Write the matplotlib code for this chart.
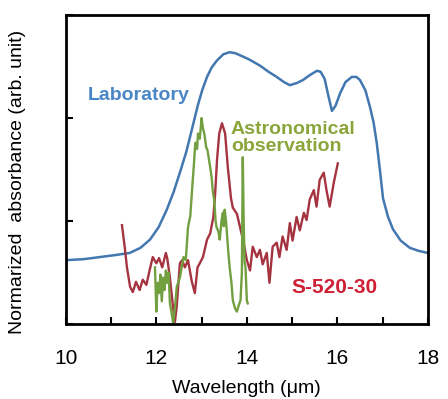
import matplotlib
matplotlib.use("Agg")
import matplotlib.pyplot as plt

plt.rcParams['font.family'] = ['Liberation Sans', 'DejaVu Sans']

# Laboratory absorbance (blue)
lab_x = [10.0, 10.4, 10.75, 11.1, 11.41, 11.65, 11.86, 12.05, 12.23, 12.38, 12.52, 12.66,
         12.78, 12.92, 13.02, 13.12, 13.22, 13.34, 13.48, 13.62, 13.75, 13.85, 14.05, 14.29,
         14.48, 14.66, 14.82, 14.95, 15.1, 15.24, 15.4, 15.55, 15.63, 15.72, 15.8, 15.88,
         15.96, 16.06, 16.18, 16.32, 16.42, 16.5, 16.62, 16.72, 16.8, 16.87, 16.94, 17.01,
         17.12, 17.23, 17.4, 17.6, 17.8, 18.0]
lab_y = [0.62, 0.63, 0.65, 0.67, 0.69, 0.74, 0.82, 0.94, 1.11, 1.28, 1.47, 1.67,
         1.88, 2.13, 2.28, 2.40, 2.49, 2.56, 2.62, 2.64, 2.63, 2.61, 2.57, 2.51,
         2.45, 2.40, 2.35, 2.32, 2.34, 2.37, 2.42, 2.46, 2.45, 2.38, 2.22, 2.07,
         2.12, 2.24, 2.35, 2.40, 2.40, 2.37, 2.27, 2.11, 1.96, 1.76, 1.50, 1.22,
         1.04, 0.92, 0.81, 0.74, 0.71, 0.69]

# Astronomical observation (green)
obs_x = [11.97, 12.0, 12.03, 12.06, 12.09, 12.12, 12.15, 12.18, 12.21, 12.24, 12.27, 12.3,
         12.34, 12.37, 12.41, 12.45, 12.52, 12.6, 12.65, 12.7, 12.75, 12.8, 12.83, 12.86,
         12.9, 12.92, 12.96, 13.0, 13.03, 13.06, 13.1, 13.13, 13.18, 13.22, 13.25, 13.28,
         13.31, 13.33, 13.37, 13.4, 13.44, 13.47, 13.49, 13.51, 13.54, 13.56, 13.59, 13.62,
         13.66, 13.69, 13.74, 13.78, 13.82, 13.86, 13.89, 13.91, 13.93, 13.95, 13.97, 14.0,
         14.02]
obs_y = [0.55, 0.12, 0.40, 0.30, 0.48, 0.22, 0.45, 0.33, 0.52, 0.40, 0.50, 0.20,
         0.10, 0.01, 0.15, 0.36, 0.45, 0.65, 0.62, 0.94, 1.05, 1.37, 1.55, 1.76,
         1.70, 1.85, 1.80, 2.00, 1.90, 1.85, 1.72, 1.69, 1.55, 1.43, 1.28, 1.20,
         1.00, 0.94, 0.90, 0.82, 1.00, 1.08, 0.95, 1.11, 1.00, 0.88, 0.70, 0.55,
         0.40, 0.23, 0.15, 0.12, 0.18, 0.23, 0.50, 1.62, 1.00, 0.60, 0.55, 0.23,
         0.20]

# Rocket sample S-520-30 (red)
s52_x = [11.24, 11.3, 11.35, 11.42, 11.48, 11.55, 11.63, 11.7, 11.78, 11.85, 11.92, 12.0,
         12.06, 12.13, 12.21, 12.24, 12.3, 12.36, 12.41, 12.45, 12.52, 12.57, 12.63, 12.7,
         12.78, 12.85, 12.91, 12.96, 13.03, 13.12, 13.19, 13.26, 13.3, 13.34, 13.39, 13.45,
         13.52, 13.58, 13.65, 13.69, 13.78, 13.85, 13.92, 14.0, 14.07, 14.13, 14.22, 14.29,
         14.35, 14.44, 14.5, 14.57, 14.66, 14.72, 14.79, 14.88, 14.95, 15.01, 15.1, 15.17,
         15.26, 15.32, 15.39, 15.48, 15.54, 15.61, 15.7, 15.76, 15.83, 15.92, 16.01]
s52_y = [0.96, 0.75, 0.55, 0.36, 0.31, 0.41, 0.33, 0.43, 0.38, 0.52, 0.65, 0.59,
         0.64, 0.55, 0.69, 0.64, 0.45, 0.20, 0.02, 0.17, 0.59, 0.62, 0.55, 0.62,
         0.42, 0.30, 0.55, 0.59, 0.65, 0.82, 0.88, 1.04, 1.27, 1.59, 1.85, 1.95,
         1.85, 1.52, 1.22, 1.13, 1.07, 0.94, 0.81, 0.62, 0.52, 0.75, 0.65, 0.72,
         0.58, 0.69, 0.40, 0.75, 0.79, 0.65, 0.85, 0.72, 0.98, 0.81, 1.04, 0.91,
         1.08, 1.01, 1.21, 1.30, 1.14, 1.40, 1.47, 1.30, 1.14, 1.37, 1.56]

x_ticks = [10, 11, 12, 13, 14, 15, 16, 17, 18]
x_labels = ['10', '', '12', '', '14', '', '16', '', '18']

fig = plt.figure(figsize=(4.48, 3.99), dpi=100)
ax = fig.add_axes([0.147, 0.188, 0.808, 0.774])

ax.plot(lab_x, lab_y, color='#4277b0', lw=1.8)
ax.plot(s52_x, s52_y, color='#a53440', lw=1.7)
ax.plot(obs_x, obs_y, color='#72a040', lw=1.7)

ax.set_xlim(10, 18)
ax.set_ylim(0, 3)
ax.set_xticks(x_ticks)
ax.set_xticklabels(x_labels, fontsize=15)
ax.set_yticks([0, 1, 2, 3])
ax.set_yticklabels([])
ax.tick_params(direction='in', length=5, width=1.5, pad=18)
for s in ax.spines.values():
    s.set_linewidth(2)

ax.text(10.48, 2.18, 'Laboratory', color='#4a86c5', fontsize=14, fontweight='bold')
ax.text(13.65, 1.68, 'Astronomical\nobservation', color='#8ba53a', fontsize=14,
        fontweight='bold', linespacing=1.0)
ax.text(14.98, 0.3, 'S-520-30', color='#d02035', fontsize=15, fontweight='bold')

ax.set_xlabel('Wavelength (\u03bcm)', fontsize=14, labelpad=9)
ax.set_ylabel('Normarized  absorbance (arb. unit)', fontsize=14)
ax.yaxis.set_label_coords(-0.11, 0.46)

fig.savefig('out.png', dpi=100)
